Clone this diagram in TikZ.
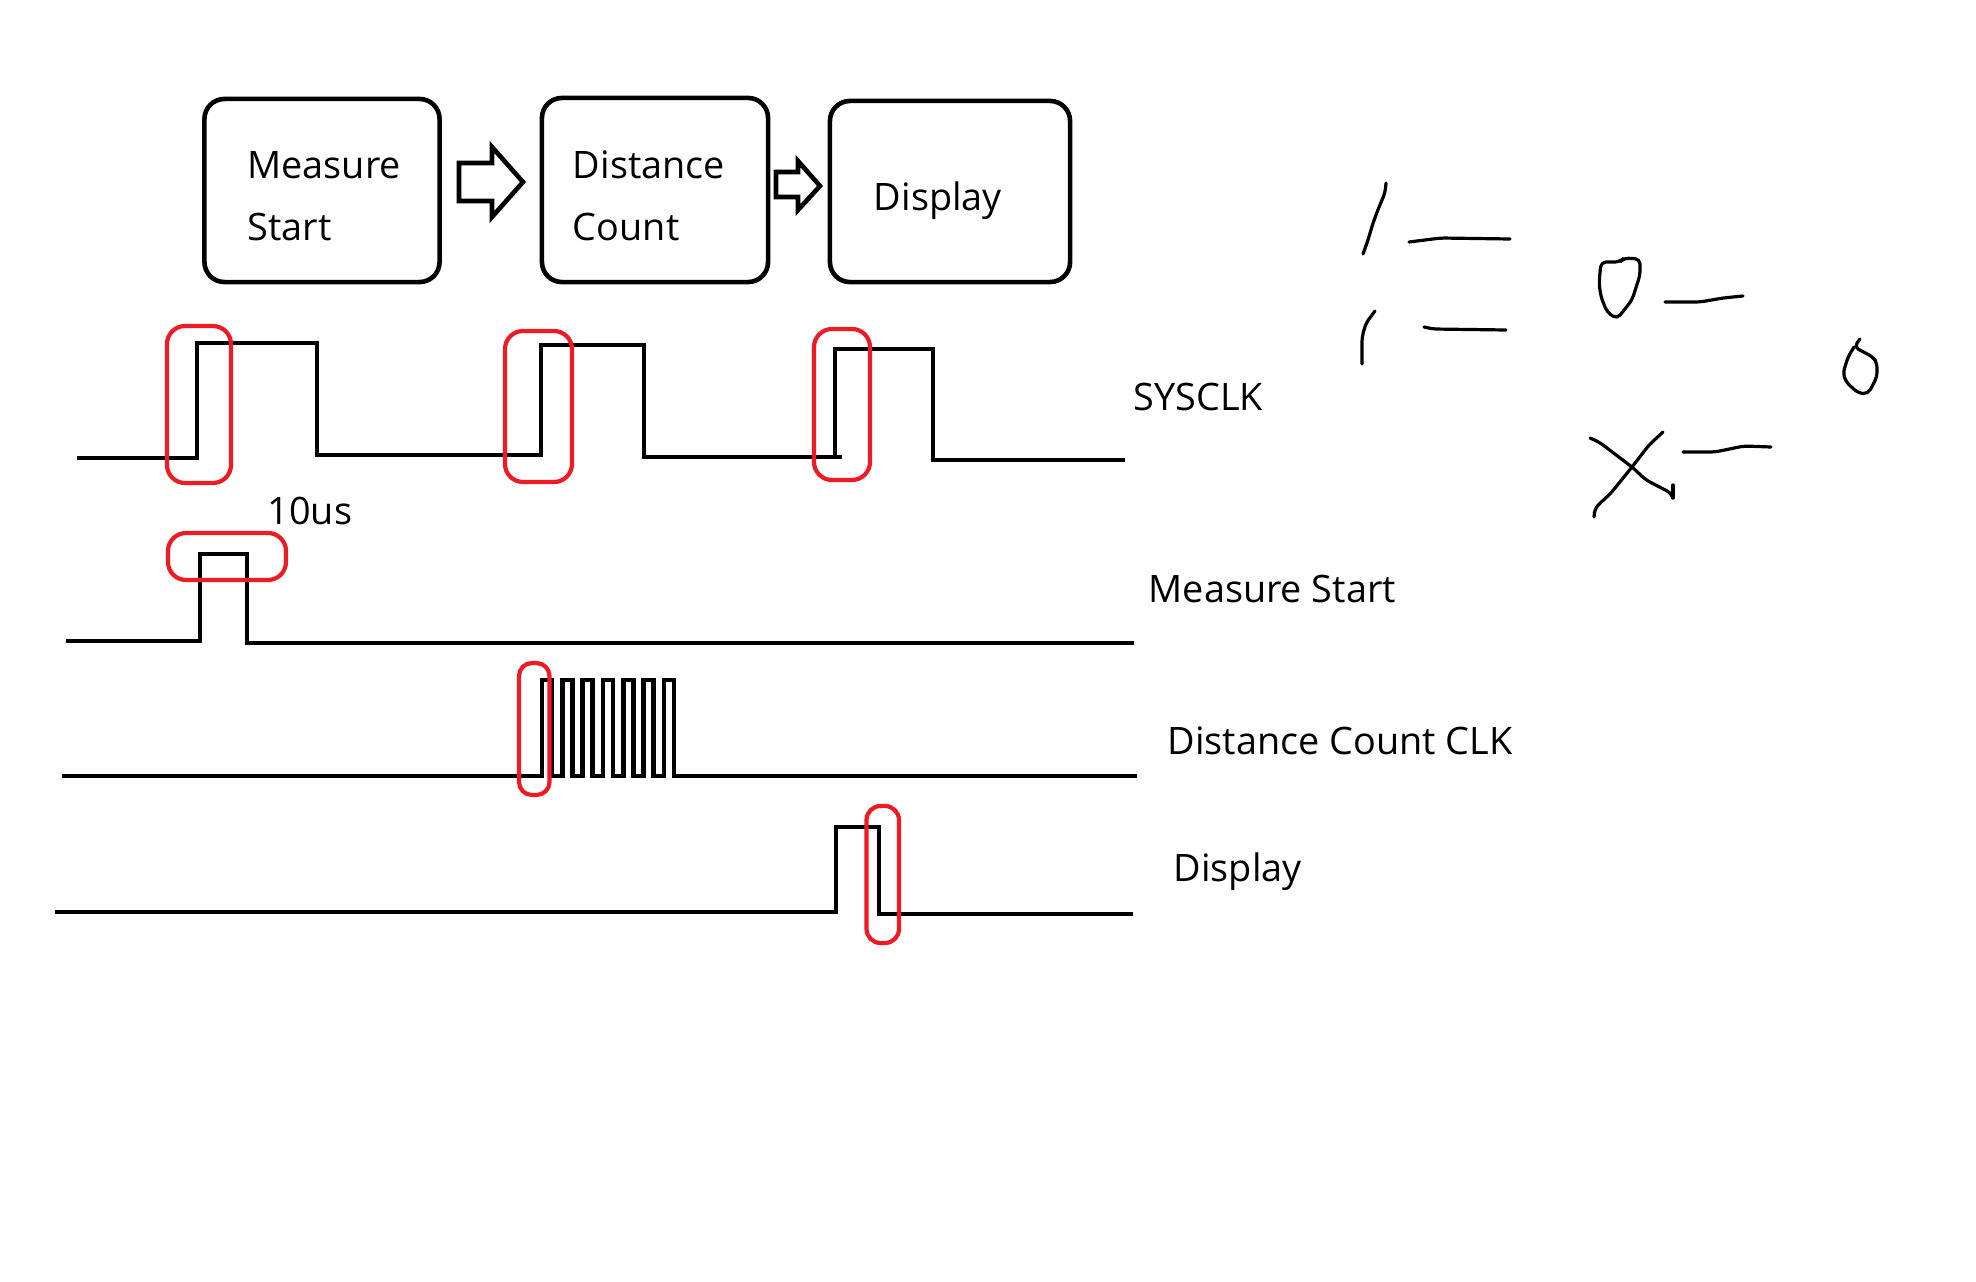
\documentclass[tikz,border=0pt]{standalone}
\usepackage{fontspec}
\setmainfont{Open Sans}
\definecolor{markred}{HTML}{ED1C24}
\tikzset{
  blockbox/.style={draw,line width=4.6*0.2845pt,rounded corners=0.2cm,align=left,inner ysep=0pt,font=\fontsize{10.75}{17.5}\selectfont},
  wave/.style={line width=4.6*0.2845pt},
  redmark/.style={draw=markred,line width=4.2*0.2845pt,rounded corners=0.18cm},
  sketch/.style={line width=3.2*0.2845pt,line cap=round,line join=round,rounded corners=0.05cm},
  siglabel/.style={anchor=base west,inner sep=0pt,font=\fontsize{10.75}{14}\selectfont}
}
\begin{document}
\begin{tikzpicture}[x=0.01cm,y=-0.01cm]
      \useasboundingbox (0,0) rectangle (1976,1282);
      \node[blockbox,minimum height=1.83cm,text width=1.49cm,inner xsep=0.43cm,text height=0.3cm,text depth=0.53cm] (start) at (322,190.5) {Measure\\Start};
      \node[blockbox,minimum height=1.84cm,text width=1.64cm,inner xsep=0.31cm,text height=0.3cm,text depth=0.52cm] (count) at (655,190) {Distance\\Count};
      \node[blockbox,minimum height=1.81cm,text width=1.52cm,inner xsep=0.44cm,text height=0.6cm,text depth=0.23cm] (display) at (950,191.5) {Display};
      \draw[wave] (459,163) -- (492,163) -- (492,147) -- (523,182) -- (492,217) -- (492,201) -- (459,201) -- cycle;
      \draw[wave] (776,172) -- (798,172) -- (798,161) -- (820,186) -- (798,210) -- (798,197) -- (776,197) -- cycle;
      \draw[wave] (77,458) -- (197,458) -- (197,343) -- (317,343) -- (317,455) -- (541,455) -- (541,345) -- (644,345) -- (644,457) -- (842,457);
      \draw[wave] (835,457) -- (835,349) -- (933,349) -- (933,460) -- (1125,460);
      \draw[wave] (66,641) -- (200,641) -- (200,554) -- (247,554) -- (247,643) -- (1134,643);
      \draw[wave] (62,776) foreach \i in {0,...,6} {
        -- ({542+20.33*\i},776) -- ({542+20.33*\i},680) -- ({552+20.33*\i},680) -- ({552+20.33*\i},776)
      } -- (1137,776);
      \draw[wave] (55,912) -- (836,912) -- (836,827) -- (879,827) -- (879,914) -- (1133,914);
      \draw[redmark] (167,326) rectangle (231,483);
      \draw[redmark] (505,331) rectangle (572,482);
      \draw[redmark] (814,329) rectangle (870,480);
      \draw[redmark] (168,533) rectangle (286,580);
      \draw[redmark,rounded corners=0.13cm] (519,663) rectangle (549.5,795);
      \draw[redmark,rounded corners=0.14cm] (866.5,806) rectangle (899,943);
      \node[siglabel] (pulse) at (267,524) {10us};
      \node[siglabel] (sysclk) at (1133,410) {SYSCLK};
      \node[siglabel] (measure) at (1148,602) {Measure Start};
      \node[siglabel] (distance) at (1167,754) {Distance Count CLK};
      \node[siglabel] (show) at (1173,881) {Display};
      \draw[sketch] (1386,183) -- (1385,193) -- (1379,207) -- (1373,223) -- (1368,240) -- (1363,254);
      \draw[sketch] (1409,242) -- (1441,238) -- (1510,239);
      \draw[sketch] (1375,311) -- (1366,323) -- (1362,337) -- (1362,364);
      \draw[sketch] (1424,327) -- (1433,329) -- (1506,330);
      \draw[sketch] (1601,262) -- (1620,262) -- (1624,258) -- (1640,259) -- (1640,275) -- (1632,300) -- (1617,319) -- (1607,312) -- (1601,297) -- (1599,283) -- cycle;
      \draw[sketch] (1665,302) -- (1700,302) -- (1723,298) -- (1743,296);
      \draw[sketch] (1860,339) -- (1854,347) -- (1873,357) -- (1877,363) -- (1877,377) -- (1868,394) -- (1858,393) -- (1846,382) -- (1843,373) -- (1848,357) -- (1854,347);
      \draw[sketch] (1663,432) -- (1649,445) -- (1632,467) -- (1611,493) -- (1595,508) -- (1594,517);
      \draw[sketch] (1590,438) -- (1599,442) -- (1632,467) -- (1646,480) -- (1671,493) -- (1673,498);
      \draw[sketch] (1673,485) -- (1673,498);
      \draw[sketch] (1683,452) -- (1715,452) -- (1744,446) -- (1771,447);
    \end{tikzpicture}
\end{document}
